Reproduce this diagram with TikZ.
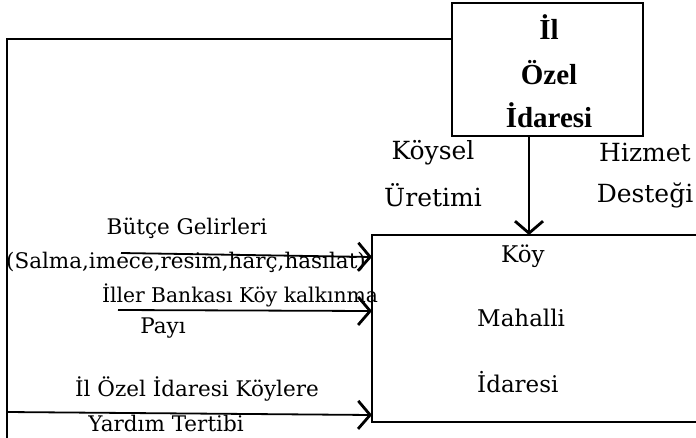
\documentclass[tikz,border=0pt]{standalone}
\usepackage{fontspec}
\setmainfont{DejaVu Serif}
\newfontfamily\timesf{Liberation Serif}
\usetikzlibrary{arrows.meta}
\tikzset{
  lbl/.style={inner sep=0pt, font=\fontsize{21.5}{23}\selectfont},
  lblsm/.style={inner sep=0pt, font=\fontsize{20.3}{22}\selectfont},
  big/.style={inner sep=0pt, font=\timesf\bfseries\fontsize{29}{31}\selectfont},
  mid/.style={inner sep=0pt, font=\fontsize{25}{27}\selectfont},
  koy/.style={inner sep=0pt, font=\fontsize{23}{25}\selectfont},
  ln/.style={line width=1.8pt},
  arr/.style={ln, -{Straight Barb[length=12pt, width=28pt, line width=2.8pt]}}
}
\begin{document}
\begin{tikzpicture}[x=1pt, y=-1pt]
\useasboundingbox (0,0) rectangle (696,437);
\clip (0,0) rectangle (696,437);
% top box
\node[draw, ln, minimum width=191pt, minimum height=133pt, inner sep=0pt] (ozel) at (547.5,69.5) {};
\node[big] (t1) at (549,27) {İl};
\node[big] (t2) at (549,73) {Özel};
\node[big] (t3) at (549,115) {İdaresi};
% koy box
\coordinate (kTL) at (372,235);
\coordinate (kBL) at (372,422);
\draw[ln] (705,235) -- (kTL) -- (kBL) -- (705,422);
\node[koy, anchor=west] (k1) at (501,256) {Köy};
\node[koy, anchor=west] (k2) at (477,318) {Mahalli};
\node[koy, anchor=west] (k3) at (477,382) {İdaresi};
% left feedback line
\coordinate (c1) at (7,39);
\coordinate (c2) at (7,445);
\draw[line width=2.8pt] (ozel.west |- c1) -- (c1) -- (c2);
% vertical arrow
\coordinate (vt) at (529,235);
\draw[arr] (ozel.south -| vt) -- (vt);
\node[mid] (ks) at (433,153) {Köysel};
\node[mid] (ku) at (433,195) {Üretimi};
\node[mid] (hz) at (645,152) {Hizmet};
\node[mid] (ds) at (645,195) {Desteği};
% left arrows
\coordinate (a1s) at (121,253);
\coordinate (a1e) at (372,257);
\draw[arr] (a1s) -- (a1e);
\node[lbl] (b1) at (187,228) {Bütçe Gelirleri};
\node[lbl] (b2) at (186,262) {(Salma,imece,resim,harç,hasılat)};
\coordinate (a2s) at (118,310);
\coordinate (a2e) at (372,311);
\draw[arr] (a2s) -- (a2e);
\node[lblsm] (i1) at (240,295) {İller Bankası Köy kalkınma};
\node[lbl] (i2) at (163,328) {Payı};
\coordinate (a3s) at (7,412);
\coordinate (a3e) at (372,415);
\draw[arr] (a3s) -- (a3e);
\node[lbl] (y1) at (197,389) {İl Özel İdaresi Köylere};
\node[lbl] (y2) at (166,423) {Yardım Tertibi};
\end{tikzpicture}
\end{document}
